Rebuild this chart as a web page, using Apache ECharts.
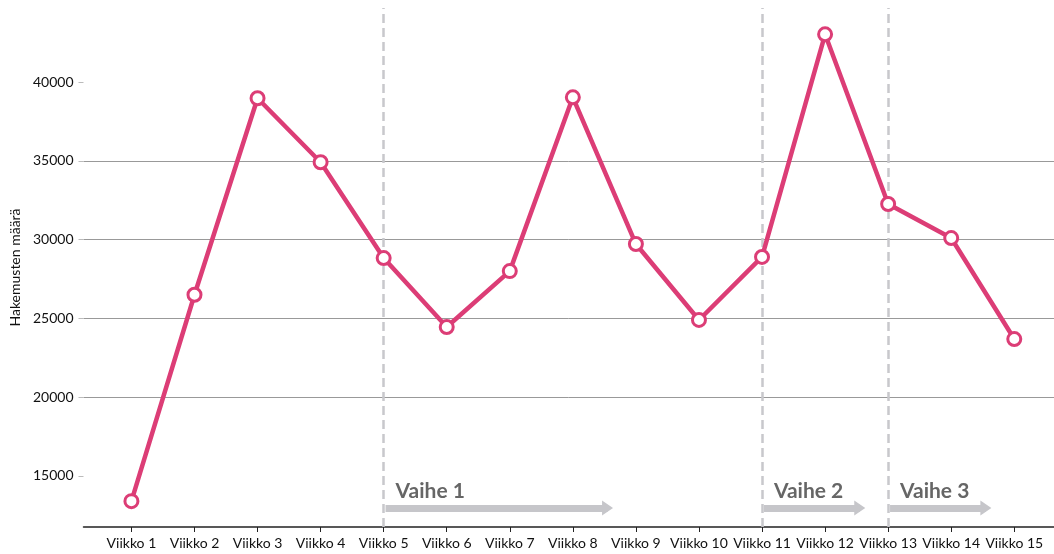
<!DOCTYPE html>
<html>
<head>
<meta charset="utf-8">
<script src="https://cdn.jsdelivr.net/npm/echarts@6/dist/echarts.min.js"></script>
<style>
  html, body { margin: 0; padding: 0; background: #fff; }
  #chart { width: 1054px; height: 554px; }
</style>
</head>
<body>
<div id="chart"></div>
<script>
// Data
// ----------
var weeks = ['Viikko 1', 'Viikko 2', 'Viikko 3', 'Viikko 4', 'Viikko 5', 'Viikko 6', 'Viikko 7', 'Viikko 8',
    'Viikko 9', 'Viikko 10', 'Viikko 11', 'Viikko 12', 'Viikko 13', 'Viikko 14', 'Viikko 15']
var applications = [13400, 26500, 38970, 34910, 28830, 24450, 28000, 39030,
    29720, 24900, 28900, 43030, 32260, 30100, 23690]
var yTicks = [15000, 20000, 25000, 30000, 35000, 40000]

// phases: start week, arrow tip (in week units), label
var phaseNames = ['Vaihe 1', 'Vaihe 2', 'Vaihe 3']
var phaseStarts = [5, 11, 13]
var phaseEnds = [8.55, 12.55, 14.55]
var phaseArrowLevel = 12970

var weekNums = weeks.map(function (w, i) { return i + 1 })

var FONT = 'Lato'
var LINE_COLOR = '#dc3d76'

var chart = echarts.init(document.getElementById('chart'), null, { renderer: 'canvas' })

// vertical dashed phase separators
var separators = phaseStarts.map(function (s) {
    return { xAxis: s }
})

// arrows with the phase label on top
var arrows = phaseNames.map(function (name, i) {
    return [
        { coord: [phaseStarts[i] + 0.03, phaseArrowLevel], name: name },
        { coord: [phaseEnds[i], phaseArrowLevel] }
    ]
})

var option = {
    animation: false,
    grid: { left: 82, right: 0, top: 8, bottom: 27, containLabel: false },
    xAxis: {
        type: 'value',
        min: 0.24,
        max: 15.63,
        splitLine: { show: false },
        axisLine: { show: true, lineStyle: { color: '#222', width: 1.5 } },
        axisTick: {
            show: true, length: 5,
            customValues: weekNums,
            lineStyle: { color: '#222', width: 1 }
        },
        axisLabel: {
            customValues: weekNums,
            margin: 9,
            fontFamily: FONT, fontSize: 14, color: '#111',
            formatter: function (v) { return weeks[Math.round(v) - 1] }
        }
    },
    yAxis: {
        type: 'value',
        min: 11760,
        max: 44700,
        name: 'Hakemusten määrä',
        nameLocation: 'middle',
        nameGap: 56,
        nameTextStyle: { fontFamily: FONT, fontSize: 14, color: '#111' },
        axisLine: { show: false },
        axisTick: { show: true, length: 5, customValues: yTicks, lineStyle: { color: '#bbb' } },
        axisLabel: {
            customValues: yTicks,
            margin: 10,
            fontFamily: FONT, fontSize: 14, color: '#111',
            formatter: function (v) { return String(v) }
        },
        splitLine: {
            show: true,
            showMinLine: false,
            showMaxLine: false,
            lineStyle: { color: '#999', width: 1 }
        }
    },
    series: [
        {
            type: 'line',
            data: weekNums.map(function (n, i) { return [n, applications[i]] }),
            z: 5,
            lineStyle: { color: LINE_COLOR, width: 4.5 },
            symbol: 'circle',
            symbolSize: 13,
            itemStyle: { color: '#fff', borderColor: LINE_COLOR, borderWidth: 3 },
            markLine: {
                silent: true,
                symbol: ['none', 'none'],
                label: { show: false },
                lineStyle: { color: '#c8c8cc', width: 2.5, type: [9, 5] },
                data: separators
            }
        },
        {
            type: 'line',
            data: [],
            markLine: {
                silent: true,
                symbol: ['none', 'triangle'],
                symbolSize: [15, 11],
                lineStyle: { color: '#c6c6ca', width: 7, type: 'solid' },
                label: {
                    show: true,
                    position: 'insideStartTop',
                    formatter: '{b}',
                    distance: [10, 6],
                    fontFamily: FONT, fontSize: 21, fontWeight: 'bold', color: '#666'
                },
                data: arrows
            }
        }
    ]
}

chart.setOption(option)
</script>
</body>
</html>
